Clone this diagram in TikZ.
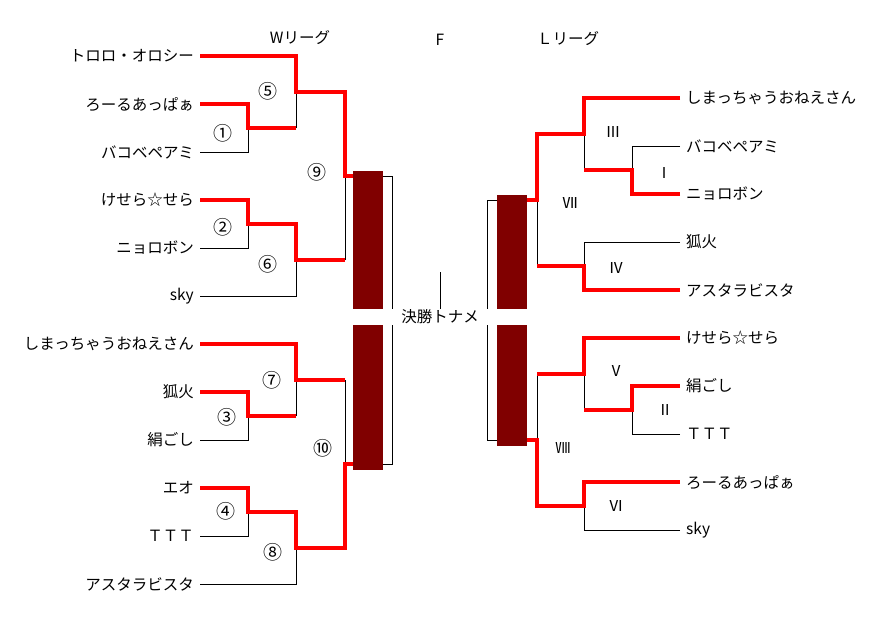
\documentclass[tikz,border=0pt]{standalone}
\usepackage{fontspec}
\newfontfamily\jpfont{Noto Sans CJK JP}
\usepackage{tikz}
\usetikzlibrary{calc}
\usepackage[x11names]{xcolor}
\definecolor{barcolor}{RGB}{128, 0, 0}
\definecolor{wincolor}{RGB}{255, 0, 0}

\begin{document}
\begin{tikzpicture}[x=1pt, y=-1pt,
    player/.style={font=\jpfont\fontsize{15.5}{16}\selectfont, inner xsep=6pt, inner ysep=0pt},
    matchno/.style={font=\jpfont\fontsize{15}{16}\selectfont, inner sep=0pt},
    circno/.style={font=\jpfont\fontsize{19}{20}\selectfont, inner sep=0pt},
    win/.style={wincolor, line width=4pt, line join=miter},
    lose/.style={black, line width=1pt},
    finalbar/.style={fill=barcolor, minimum width=30pt, inner sep=0pt}]

    \useasboundingbox (0, 0) rectangle (880, 624);

    % League headers
    \node[player] (hw) at (300, 38) {Wリーグ};
    \node[player] (hf) at (440, 40) {F};
    \node[player] (hl) at (568, 39) {Ｌリーグ};

    % W league players (right aligned)
    \node[player, anchor=east] (wp1) at (200, 56) {トロロ・オロシー};
    \node[player, anchor=east] (wp2) at (200, 104) {ろーるあっぱぁ};
    \node[player, anchor=east] (wp3) at (200, 152) {バコベペアミ};
    \node[player, anchor=east] (wp4) at (200, 200) {けせら☆せら};
    \node[player, anchor=east] (wp5) at (200, 248) {ニョロボン};
    \node[player, anchor=east] (wp6) at (200, 296) {sky};
    \node[player, anchor=east] (wp7) at (200, 344) {しまっちゃうおねえさん};
    \node[player, anchor=east] (wp8) at (200, 392) {狐火};
    \node[player, anchor=east] (wp9) at (200, 440) {絹ごし};
    \node[player, anchor=east] (wp10) at (200, 488) {エオ};
    \node[player, anchor=east] (wp11) at (200, 536) {ＴＴＴ};
    \node[player, anchor=east] (wp12) at (200, 584) {アスタラビスタ};

    % L league players (left aligned)
    \node[player, anchor=west] (lp1) at (680, 98) {しまっちゃうおねえさん};
    \node[player, anchor=west] (lp2) at (680, 146) {バコベペアミ};
    \node[player, anchor=west] (lp3) at (680, 194) {ニョロボン};
    \node[player, anchor=west] (lp4) at (680, 242) {狐火};
    \node[player, anchor=west] (lp5) at (680, 290) {アスタラビスタ};
    \node[player, anchor=west] (lp6) at (680, 338) {けせら☆せら};
    \node[player, anchor=west] (lp7) at (680, 386) {絹ごし};
    \node[player, anchor=west] (lp8) at (680, 434) {ＴＴＴ};
    \node[player, anchor=west] (lp9) at (680, 482) {ろーるあっぱぁ};
    \node[player, anchor=west] (lp10) at (680, 530) {sky};

    % W league match points
    \coordinate (wj1) at (248, 128);
    \coordinate (wj2) at (248, 224);
    \coordinate (wj3) at (248, 416);
    \coordinate (wj4) at (248, 512);
    \coordinate (wj5) at (296, 92);
    \coordinate (wj6) at (296, 260);
    \coordinate (wj7) at (296, 380);
    \coordinate (wj8) at (296, 548);
    \coordinate (wj9) at (345, 176);
    \coordinate (wj10) at (345, 464);

    % L league match points
    \coordinate (lj1) at (632, 170);
    \coordinate (lj2) at (632, 410);
    \coordinate (lj3) at (584, 134);
    \coordinate (lj4) at (584, 266);
    \coordinate (lj5) at (584, 374);
    \coordinate (lj6) at (584, 506);
    \coordinate (lj7) at (537, 200);
    \coordinate (lj8) at (537, 440);

    % Final bars
    \node[finalbar, minimum height=299pt] (fw) at (368, 320.5) {};
    \node[finalbar, minimum height=251pt] (fl) at (512, 320.5) {};

    % W league losing lines
    \draw[lose] (wp3.east) -| (wj1);
    \draw[lose] (wp5.east) -| (wj2);
    \draw[lose] (wp9.east) -| (wj3);
    \draw[lose] (wp11.east) -| (wj4);
    \draw[lose] (wp6.east) -| (wj6);
    \draw[lose] (wp12.east) -| (wj8);
    \draw[lose] (wj1 -| wj5) -- (wj5);
    \draw[lose] (wj3 -| wj7) -- (wj7);
    \draw[lose] (wj6 -| wj9) -- (wj9);
    \draw[lose] (wj7 -| wj10) -- (wj10);

    % L league losing lines
    \draw[lose] (lp2.west) -| (lj1);
    \draw[lose] (lp8.west) -| (lj2);
    \draw[lose] (lp4.west) -| (lj4);
    \draw[lose] (lp10.west) -| (lj6);
    \draw[lose] (lj1 -| lj3) -- (lj3);
    \draw[lose] (lj2 -| lj5) -- (lj5);
    \draw[lose] (lj4 -| lj7) -- (lj7);
    \draw[lose] (lj5 -| lj8) -- (lj8);

    % Final brackets
    \draw[lose] (wj9 -| fw.east) -- ++(9, 0) |- (wj10 -| fw.east);
    \draw[lose] (lj7 -| fl.west) -- ++(-9, 0) |- (lj8 -| fl.west);

    % W league winners
    \draw[win] (wp1.east) -| (wj5) -| (wj9) -- (wj9 -| fw.west);
    \draw[win] (wp2.east) -| (wj1) -- (wj1 -| wj5);
    \draw[win] (wp4.east) -| (wj2) -| (wj6) -- (wj6 -| wj9);
    \draw[win] (wp7.east) -| (wj7) -- (wj7 -| wj10);
    \draw[win] (wp8.east) -| (wj3) -- (wj3 -| wj7);
    \draw[win] (wp10.east) -| (wj4) -| (wj8) -| (wj10) -- (wj10 -| fw.west);

    % L league winners
    \draw[win] (lp1.west) -| (lj3) -| (lj7) -- (lj7 -| fl.east);
    \draw[win] (lp3.west) -| (lj1) -- (lj1 -| lj3);
    \draw[win] (lp5.west) -| (lj4) -- (lj4 -| lj7);
    \draw[win] (lp6.west) -| (lj5) -- (lj5 -| lj8);
    \draw[win] (lp7.west) -| (lj2) -- (lj2 -| lj5);
    \draw[win] (lp9.west) -| (lj6) -| (lj8) -- (lj8 -| fl.east);

    % W league match numbers
    \node[circno] (wn1) at (223, 133) {①};
    \node[circno] (wn2) at (223, 227) {②};
    \node[circno] (wn3) at (227, 417) {③};
    \node[circno] (wn4) at (226, 511) {④};
    \node[circno] (wn5) at (268, 91) {⑤};
    \node[circno] (wn6) at (268, 264) {⑥};
    \node[circno] (wn7) at (272, 380) {⑦};
    \node[circno] (wn8) at (273, 552) {⑧};
    \node[circno] (wn9) at (317, 172) {⑨};
    \node[circno] (wn10) at (323, 448) {⑩};

    % L league match numbers
    \node[matchno] (ln1) at (664, 173) {Ⅰ};
    \node[matchno] (ln2) at (665, 410) {Ⅱ};
    \node[matchno] (ln3) at (613, 132) {Ⅲ};
    \node[matchno] (ln4) at (616, 268) {Ⅳ};
    \node[matchno] (ln5) at (616, 371) {Ⅴ};
    \node[matchno] (ln6) at (616, 506) {Ⅵ};
    \node[matchno] (ln7) at (570, 203) {Ⅶ};
    \node[matchno] (ln8) at (563, 448) {Ⅷ};

    % Final label (white band across both bars)
    \node[player, fill=white, minimum width=174pt, minimum height=16pt, inner sep=0pt] (fin) at (440, 317) {決勝トナメ};
    \coordinate (ftop) at (440, 272);
    \draw[lose] (ftop) -- (ftop |- fin.north);

\end{tikzpicture}
\end{document}
